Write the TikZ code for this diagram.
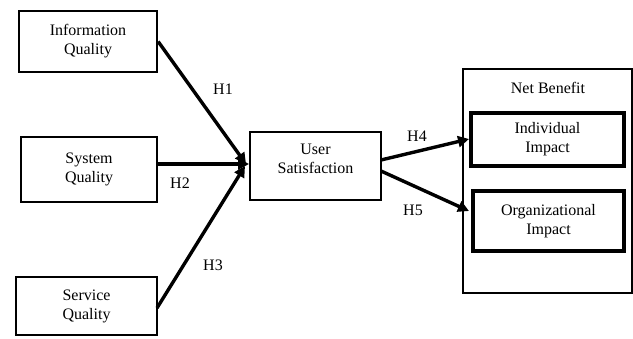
\documentclass[tikz,border=0pt]{standalone}
\usepackage{fontspec}
\setmainfont{Liberation Serif}
\usetikzlibrary{arrows.meta}
\begin{document}
\begin{tikzpicture}[x=1pt,y=-1pt,
  box/.style={draw,line width=2.3pt,inner sep=0pt,align=center,font=\fontsize{16}{19}\selectfont},
  inbox/.style={box,line width=3.2pt},
  conn/.style={line width=3.4pt,-{Triangle[length=11pt,width=11pt]}},
  lab/.style={font=\fontsize{16}{19}\selectfont}]
\useasboundingbox (0,0) rectangle (633,338);
\node[box,minimum width=138pt,minimum height=61pt] (info) at (88,41.5) {Information\\Quality};
\node[box,minimum width=136pt,minimum height=65pt] (sys) at (89,169.5) {System\\Quality};
\node[box,minimum width=141pt,minimum height=58pt] (serv) at (86.5,306) {Service\\Quality};
\node[box,minimum width=131pt,minimum height=68pt] (us) at (315.5,166) {};
\node[lab,align=center] (ustext) at (315.5,159) {User\\Satisfaction};
\node[box,minimum width=169pt,minimum height=224pt] (nb) at (547.5,181) {};
\node[lab] (nbtext) at (548,88) {Net Benefit};
\node[inbox,minimum width=153pt,minimum height=53pt] (ind) at (547.5,139.5) {Individual\\Impact};
\node[inbox,minimum width=151pt,minimum height=60pt] (org) at (548.5,221) {Organizational\\Impact};
\coordinate (sysout) at (157,164);
\coordinate (servout) at (157,308);
\coordinate (in1) at (246,164);
\coordinate (in2) at (249,164);
\coordinate (in3) at (245,166);
\coordinate (usout1) at (381,160);
\coordinate (usout2) at (381,171);
\coordinate (nbin1) at (469,139);
\coordinate (nbin2) at (469,211);
\draw[conn] (info.east) -- (in1);
\draw[conn] (sysout) -- (in2);
\draw[conn] (servout) -- (in3);
\draw[conn] (usout1) -- (nbin1);
\draw[conn] (usout2) -- (nbin2);
\node[lab] (h1) at (223,89) {H1};
\node[lab] (h2) at (180,183) {H2};
\node[lab] (h3) at (213,265) {H3};
\node[lab] (h4) at (417,136) {H4};
\node[lab] (h5) at (413,210) {H5};
\end{tikzpicture}
\end{document}
